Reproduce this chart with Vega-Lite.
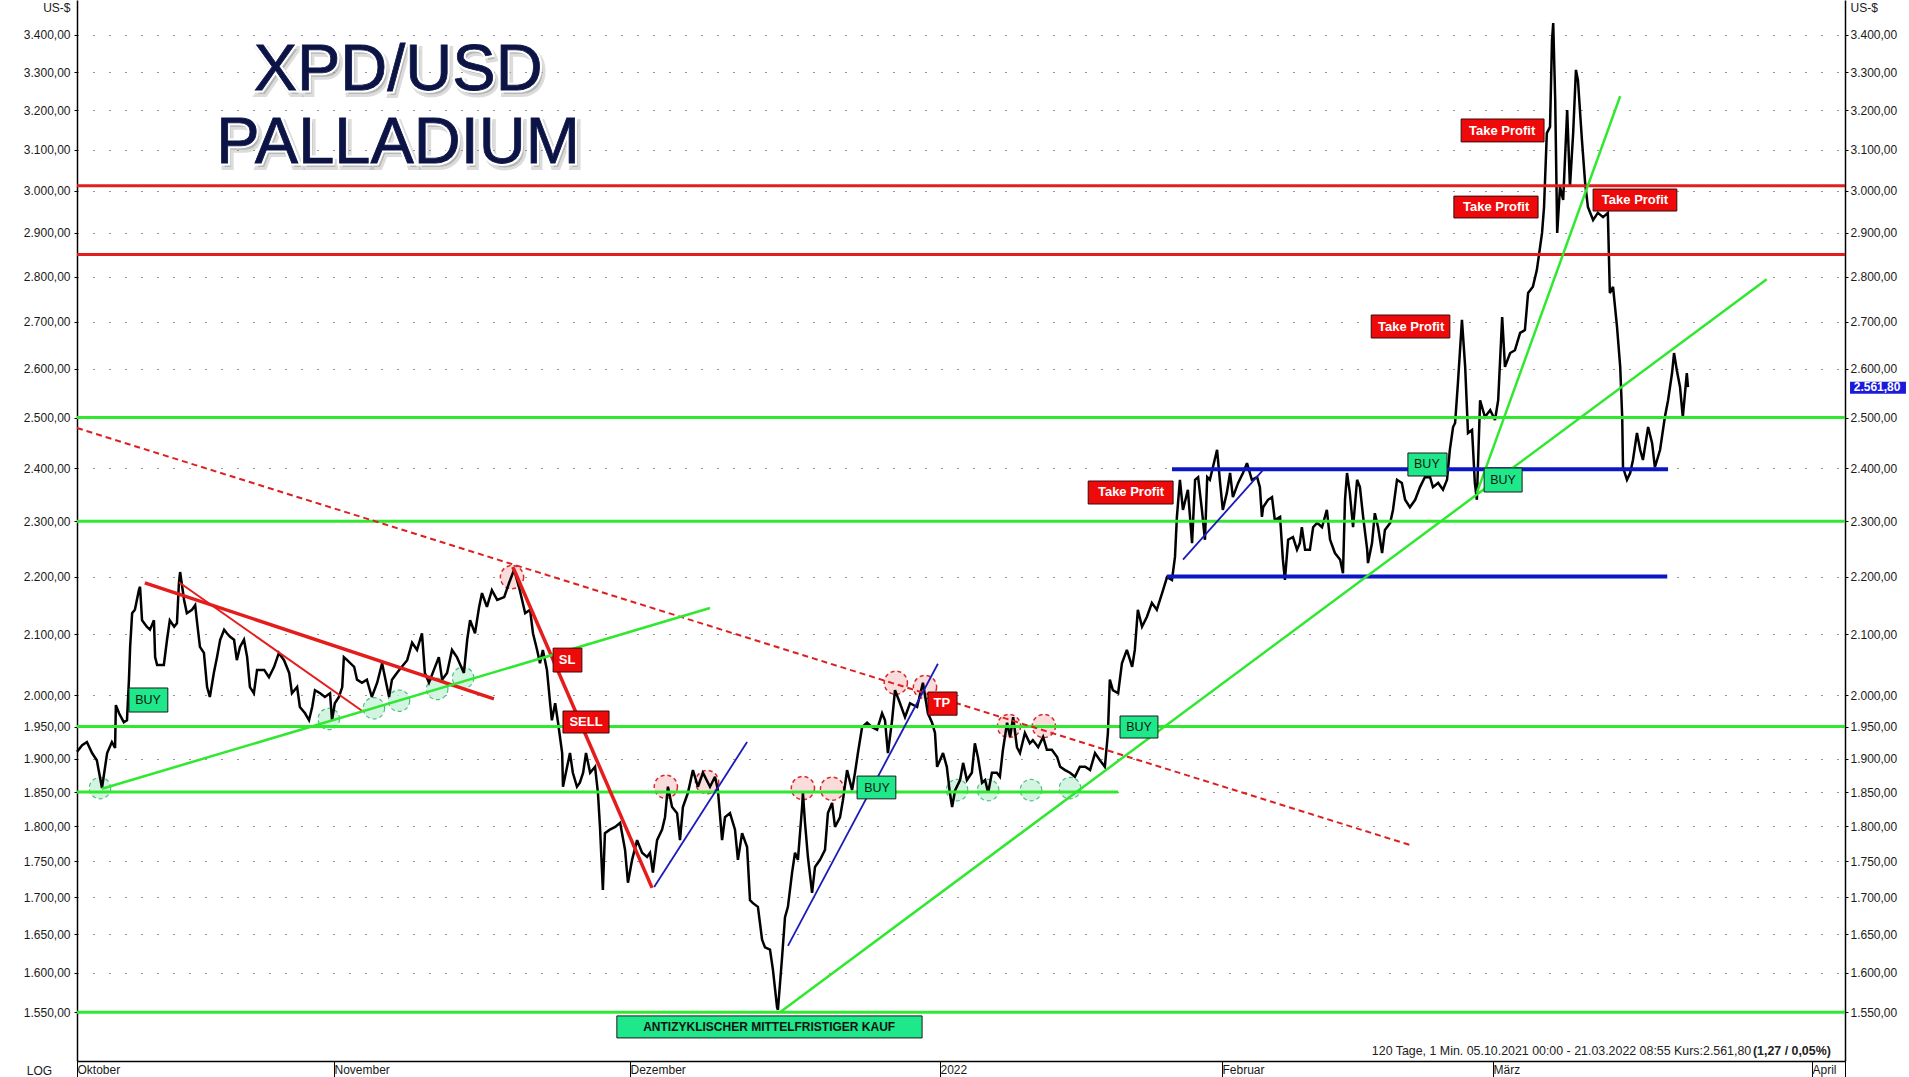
{
  "$schema": "https://vega.github.io/schema/vega-lite/v6.json",
  "width": 1768,
  "height": 1061,
  "autosize": {"type": "none"},
  "padding": {"left": 77, "top": 0, "right": 64, "bottom": 16},
  "background": "white",
  "config": {
    "view": {"stroke": null},
    "font": "Liberation Sans",
    "axis": {"labelFont": "Liberation Sans", "titleFont": "Liberation Sans", "labelColor": "#1a1a1a", "titleColor": "#1a1a1a", "domainColor": "#000000", "tickColor": "#000000", "labelFontSize": 12, "titleFontSize": 12, "titleFontWeight": "normal", "labelFlush": false, "labelOverlap": false}
  },
  "datasets": {
    "kurs": [
      {"t":"2021-10-05T00:00","p":1911},{"t":"2021-10-05T13:00","p":1921},{"t":"2021-10-06T01:00","p":1926},{"t":"2021-10-06T14:00","p":1909},{"t":"2021-10-07T02:00","p":1898},{"t":"2021-10-07T15:00","p":1856},{"t":"2021-10-08T04:00","p":1909},{"t":"2021-10-08T16:00","p":1926},{"t":"2021-10-09T00:00","p":1917},{"t":"2021-10-09T02:00","p":1984},{"t":"2021-10-09T10:00","p":1971},{"t":"2021-10-09T22:00","p":1957},{"t":"2021-10-10T06:00","p":1960},{"t":"2021-10-10T11:00","p":2025},{"t":"2021-10-10T14:00","p":2079},{"t":"2021-10-10T19:00","p":2136},{"t":"2021-10-11T02:00","p":2142},{"t":"2021-10-11T12:00","p":2176},{"t":"2021-10-11T15:00","p":2182},{"t":"2021-10-11T20:00","p":2124},{"t":"2021-10-12T08:00","p":2113},{"t":"2021-10-12T16:00","p":2108},{"t":"2021-10-13T02:00","p":2124},{"t":"2021-10-13T05:00","p":2062},{"t":"2021-10-13T10:00","p":2049},{"t":"2021-10-14T03:00","p":2049},{"t":"2021-10-14T11:00","p":2091},{"t":"2021-10-14T18:00","p":2124},{"t":"2021-10-15T05:00","p":2113},{"t":"2021-10-15T12:00","p":2119},{"t":"2021-10-15T17:00","p":2189},{"t":"2021-10-15T20:00","p":2208},{"t":"2021-10-16T06:00","p":2159},{"t":"2021-10-16T13:00","p":2136},{"t":"2021-10-17T02:00","p":2142},{"t":"2021-10-17T10:00","p":2150},{"t":"2021-10-17T15:00","p":2119},{"t":"2021-10-17T22:00","p":2079},{"t":"2021-10-18T08:00","p":2069},{"t":"2021-10-18T16:00","p":2013},{"t":"2021-10-18T23:00","p":1997},{"t":"2021-10-19T09:00","p":2036},{"t":"2021-10-19T17:00","p":2062},{"t":"2021-10-20T01:00","p":2091},{"t":"2021-10-20T11:00","p":2108},{"t":"2021-10-20T18:00","p":2102},{"t":"2021-10-21T02:00","p":2096},{"t":"2021-10-21T12:00","p":2091},{"t":"2021-10-21T19:00","p":2057},{"t":"2021-10-22T03:00","p":2079},{"t":"2021-10-22T13:00","p":2091},{"t":"2021-10-22T21:00","p":2062},{"t":"2021-10-23T04:00","p":2013},{"t":"2021-10-23T14:00","p":2003},{"t":"2021-10-23T22:00","p":2041},{"t":"2021-10-24T16:00","p":2041},{"t":"2021-10-25T04:00","p":2029},{"t":"2021-10-25T17:00","p":2046},{"t":"2021-10-26T05:00","p":2069},{"t":"2021-10-26T18:00","p":2057},{"t":"2021-10-27T07:00","p":2036},{"t":"2021-10-27T14:00","p":2003},{"t":"2021-10-28T03:00","p":2013},{"t":"2021-10-28T10:00","p":1981},{"t":"2021-10-28T23:00","p":1971},{"t":"2021-10-29T09:00","p":1960},{"t":"2021-10-29T17:00","p":1981},{"t":"2021-10-30T00:00","p":2008},{"t":"2021-10-30T13:00","p":2003},{"t":"2021-10-31T01:00","p":1997},{"t":"2021-10-31T14:00","p":2003},{"t":"2021-10-31T19:00","p":1960},
      {"t":"2021-11-01T02:00","p":1987},{"t":"2021-11-01T12:00","p":1997},{"t":"2021-11-01T20:00","p":2013},{"t":"2021-11-02T00:00","p":2062},{"t":"2021-11-02T08:00","p":2057},{"t":"2021-11-03T01:00","p":2046},{"t":"2021-11-03T08:00","p":2025},{"t":"2021-11-03T20:00","p":2020},{"t":"2021-11-04T08:00","p":2025},{"t":"2021-11-04T20:00","p":1997},{"t":"2021-11-05T09:00","p":2020},{"t":"2021-11-05T21:00","p":2052},{"t":"2021-11-06T04:00","p":2029},{"t":"2021-11-06T14:00","p":1997},{"t":"2021-11-06T21:00","p":2025},{"t":"2021-11-07T09:00","p":2036},{"t":"2021-11-07T21:00","p":2046},{"t":"2021-11-08T10:00","p":2057},{"t":"2021-11-08T22:00","p":2086},{"t":"2021-11-09T10:00","p":2074},{"t":"2021-11-09T22:00","p":2102},{"t":"2021-11-10T05:00","p":2036},{"t":"2021-11-10T15:00","p":2020},{"t":"2021-11-11T03:00","p":2041},{"t":"2021-11-11T15:00","p":2062},{"t":"2021-11-11T23:00","p":2025},{"t":"2021-11-12T11:00","p":2036},{"t":"2021-11-12T23:00","p":2074},{"t":"2021-11-13T11:00","p":2062},{"t":"2021-11-14T04:00","p":2036},{"t":"2021-11-14T12:00","p":2091},{"t":"2021-11-14T19:00","p":2124},{"t":"2021-11-15T07:00","p":2102},{"t":"2021-11-15T17:00","p":2147},{"t":"2021-11-16T00:00","p":2171},{"t":"2021-11-16T12:00","p":2147},{"t":"2021-11-17T00:00","p":2176},{"t":"2021-11-17T13:00","p":2159},{"t":"2021-11-18T06:00","p":2164},{"t":"2021-11-18T18:00","p":2189},{"t":"2021-11-19T06:00","p":2212},{"t":"2021-11-19T20:00","p":2176},{"t":"2021-11-20T09:00","p":2136},{"t":"2021-11-20T21:00","p":2142},{"t":"2021-11-21T04:00","p":2102},{"t":"2021-11-21T14:00","p":2074},{"t":"2021-11-21T21:00","p":2052},{"t":"2021-11-22T04:00","p":2074},{"t":"2021-11-22T14:00","p":2041},{"t":"2021-11-22T21:00","p":1992},{"t":"2021-11-23T02:00","p":1960},{"t":"2021-11-23T10:00","p":1987},{"t":"2021-11-23T17:00","p":1956},{"t":"2021-11-24T03:00","p":1909},{"t":"2021-11-24T05:00","p":1858},{"t":"2021-11-24T15:00","p":1888},{"t":"2021-11-24T22:00","p":1909},{"t":"2021-11-25T05:00","p":1879},{"t":"2021-11-25T15:00","p":1858},{"t":"2021-11-25T22:00","p":1864},{"t":"2021-11-26T06:00","p":1879},{"t":"2021-11-26T13:00","p":1909},{"t":"2021-11-26T23:00","p":1879},{"t":"2021-11-27T11:00","p":1888},{"t":"2021-11-27T18:00","p":1849},{"t":"2021-11-27T23:00","p":1799},{"t":"2021-11-28T06:00","p":1710},{"t":"2021-11-28T11:00","p":1790},{"t":"2021-11-28T23:00","p":1795},{"t":"2021-11-29T12:00","p":1799},{"t":"2021-11-30T00:00","p":1805},{"t":"2021-11-30T12:00","p":1766},{"t":"2021-11-30T19:00","p":1720},
      {"t":"2021-12-01T05:00","p":1752},{"t":"2021-12-01T17:00","p":1780},{"t":"2021-12-02T05:00","p":1762},{"t":"2021-12-02T17:00","p":1756},{"t":"2021-12-03T00:00","p":1762},{"t":"2021-12-03T07:00","p":1734},{"t":"2021-12-03T17:00","p":1780},{"t":"2021-12-04T05:00","p":1795},{"t":"2021-12-04T12:00","p":1813},{"t":"2021-12-04T19:00","p":1858},{"t":"2021-12-05T05:00","p":1828},{"t":"2021-12-05T17:00","p":1819},{"t":"2021-12-06T00:00","p":1780},{"t":"2021-12-06T07:00","p":1828},{"t":"2021-12-06T19:00","p":1849},{"t":"2021-12-07T07:00","p":1883},{"t":"2021-12-07T19:00","p":1858},{"t":"2021-12-08T07:00","p":1879},{"t":"2021-12-09T00:00","p":1858},{"t":"2021-12-09T12:00","p":1873},{"t":"2021-12-09T19:00","p":1853},{"t":"2021-12-10T05:00","p":1780},{"t":"2021-12-10T12:00","p":1813},{"t":"2021-12-11T00:00","p":1819},{"t":"2021-12-11T12:00","p":1795},{"t":"2021-12-11T19:00","p":1752},{"t":"2021-12-12T05:00","p":1790},{"t":"2021-12-12T17:00","p":1770},{"t":"2021-12-13T00:00","p":1696},{"t":"2021-12-13T07:00","p":1692},{"t":"2021-12-13T19:00","p":1687},{"t":"2021-12-14T05:00","p":1643},{"t":"2021-12-14T12:00","p":1633},{"t":"2021-12-15T00:00","p":1630},{"t":"2021-12-15T07:00","p":1604},{"t":"2021-12-15T17:00","p":1556},{"t":"2021-12-15T19:00","p":1553},{"t":"2021-12-16T05:00","p":1620},{"t":"2021-12-16T12:00","p":1673},{"t":"2021-12-16T19:00","p":1687},{"t":"2021-12-17T05:00","p":1734},{"t":"2021-12-17T12:00","p":1762},{"t":"2021-12-17T19:00","p":1752},{"t":"2021-12-18T05:00","p":1828},{"t":"2021-12-18T07:00","p":1849},{"t":"2021-12-18T12:00","p":1805},{"t":"2021-12-18T19:00","p":1756},{"t":"2021-12-19T05:00","p":1706},{"t":"2021-12-19T12:00","p":1742},{"t":"2021-12-20T00:00","p":1752},{"t":"2021-12-20T12:00","p":1766},{"t":"2021-12-20T19:00","p":1819},{"t":"2021-12-21T05:00","p":1834},{"t":"2021-12-21T12:00","p":1799},{"t":"2021-12-22T00:00","p":1813},{"t":"2021-12-22T07:00","p":1838},{"t":"2021-12-22T17:00","p":1883},{"t":"2021-12-23T05:00","p":1853},{"t":"2021-12-23T12:00","p":1879},{"t":"2021-12-23T19:00","p":1909},{"t":"2021-12-24T05:00","p":1949},{"t":"2021-12-24T17:00","p":1956},{"t":"2021-12-25T05:00","p":1949},{"t":"2021-12-25T17:00","p":1945},{"t":"2021-12-26T05:00","p":1971},{"t":"2021-12-26T12:00","p":1960},{"t":"2021-12-26T19:00","p":1909},{"t":"2021-12-27T05:00","p":1960},{"t":"2021-12-27T12:00","p":2008},{"t":"2021-12-28T00:00","p":1987},{"t":"2021-12-28T12:00","p":1965},{"t":"2021-12-29T00:00","p":1987},{"t":"2021-12-29T17:00","p":1981},{"t":"2021-12-30T07:00","p":2020},{"t":"2021-12-30T19:00","p":1971},{"t":"2021-12-31T05:00","p":1956},{"t":"2021-12-31T12:00","p":1940},{"t":"2021-12-31T17:00","p":1888},
      {"t":"2022-01-01T00:00","p":1898},{"t":"2022-01-01T08:00","p":1909},{"t":"2022-01-01T18:00","p":1888},{"t":"2022-01-02T02:00","p":1849},{"t":"2022-01-02T08:00","p":1828},{"t":"2022-01-02T16:00","p":1853},{"t":"2022-01-03T05:00","p":1868},{"t":"2022-01-03T13:00","p":1894},{"t":"2022-01-03T23:00","p":1868},{"t":"2022-01-04T12:00","p":1879},{"t":"2022-01-04T20:00","p":1924},{"t":"2022-01-05T04:00","p":1903},{"t":"2022-01-05T15:00","p":1864},{"t":"2022-01-05T23:00","p":1868},{"t":"2022-01-06T07:00","p":1849},{"t":"2022-01-06T17:00","p":1879},{"t":"2022-01-07T06:00","p":1879},{"t":"2022-01-07T14:00","p":1873},{"t":"2022-01-07T22:00","p":1914},{"t":"2022-01-08T09:00","p":1956},{"t":"2022-01-08T17:00","p":1934},{"t":"2022-01-09T01:00","p":1965},{"t":"2022-01-09T11:00","p":1918},{"t":"2022-01-09T19:00","p":1909},{"t":"2022-01-10T08:00","p":1940},{"t":"2022-01-10T21:00","p":1924},{"t":"2022-01-11T05:00","p":1929},{"t":"2022-01-11T19:00","p":1918},{"t":"2022-01-12T08:00","p":1934},{"t":"2022-01-12T18:00","p":1914},{"t":"2022-01-13T07:00","p":1914},{"t":"2022-01-13T21:00","p":1903},{"t":"2022-01-14T05:00","p":1888},{"t":"2022-01-14T18:00","p":1883},{"t":"2022-01-15T07:00","p":1879},{"t":"2022-01-15T20:00","p":1873},{"t":"2022-01-16T09:00","p":1888},{"t":"2022-01-16T23:00","p":1888},{"t":"2022-01-17T12:00","p":1883},{"t":"2022-01-18T01:00","p":1909},{"t":"2022-01-18T14:00","p":1898},{"t":"2022-01-19T03:00","p":1888},{"t":"2022-01-19T11:00","p":1940},{"t":"2022-01-19T16:00","p":2025},{"t":"2022-01-20T00:00","p":2008},{"t":"2022-01-20T14:00","p":2003},{"t":"2022-01-21T00:00","p":2052},{"t":"2022-01-21T13:00","p":2074},{"t":"2022-01-22T03:00","p":2046},{"t":"2022-01-22T10:00","p":2074},{"t":"2022-01-22T18:00","p":2142},{"t":"2022-01-23T05:00","p":2113},{"t":"2022-01-23T18:00","p":2130},{"t":"2022-01-24T07:00","p":2154},{"t":"2022-01-24T20:00","p":2142},{"t":"2022-01-25T10:00","p":2171},{"t":"2022-01-25T23:00","p":2199},{"t":"2022-01-26T12:00","p":2194},{"t":"2022-01-26T20:00","p":2235},{"t":"2022-01-27T01:00","p":2308},{"t":"2022-01-27T09:00","p":2378},{"t":"2022-01-27T17:00","p":2321},{"t":"2022-01-28T06:00","p":2359},{"t":"2022-01-28T17:00","p":2260},{"t":"2022-01-29T01:00","p":2378},{"t":"2022-01-29T09:00","p":2383},{"t":"2022-01-29T19:00","p":2321},{"t":"2022-01-30T03:00","p":2266},{"t":"2022-01-30T09:00","p":2383},{"t":"2022-01-30T16:00","p":2378},{"t":"2022-01-31T00:00","p":2402},{"t":"2022-01-31T11:00","p":2436},{"t":"2022-01-31T19:00","p":2372},
      {"t":"2022-02-01T02:00","p":2321},{"t":"2022-02-01T12:00","p":2353},{"t":"2022-02-01T20:00","p":2391},{"t":"2022-02-02T03:00","p":2345},{"t":"2022-02-02T16:00","p":2372},{"t":"2022-02-03T04:00","p":2391},{"t":"2022-02-03T14:00","p":2410},{"t":"2022-02-04T02:00","p":2378},{"t":"2022-02-04T15:00","p":2383},{"t":"2022-02-04T22:00","p":2364},{"t":"2022-02-05T03:00","p":2308},{"t":"2022-02-05T06:00","p":2326},{"t":"2022-02-05T18:00","p":2340},{"t":"2022-02-06T04:00","p":2345},{"t":"2022-02-06T11:00","p":2302},{"t":"2022-02-07T00:00","p":2308},{"t":"2022-02-07T07:00","p":2230},{"t":"2022-02-07T12:00","p":2194},{"t":"2022-02-07T20:00","p":2266},{"t":"2022-02-08T08:00","p":2271},{"t":"2022-02-08T18:00","p":2248},{"t":"2022-02-09T01:00","p":2260},{"t":"2022-02-09T06:00","p":2289},{"t":"2022-02-09T14:00","p":2248},{"t":"2022-02-10T02:00","p":2248},{"t":"2022-02-10T10:00","p":2289},{"t":"2022-02-10T20:00","p":2297},{"t":"2022-02-11T08:00","p":2289},{"t":"2022-02-11T20:00","p":2321},{"t":"2022-02-12T04:00","p":2266},{"t":"2022-02-12T16:00","p":2242},{"t":"2022-02-13T05:00","p":2230},{"t":"2022-02-13T12:00","p":2206},{"t":"2022-02-13T17:00","p":2340},{"t":"2022-02-13T22:00","p":2391},{"t":"2022-02-14T05:00","p":2353},{"t":"2022-02-14T13:00","p":2289},{"t":"2022-02-14T23:00","p":2378},{"t":"2022-02-15T06:00","p":2364},{"t":"2022-02-15T14:00","p":2308},{"t":"2022-02-16T00:00","p":2248},{"t":"2022-02-16T02:00","p":2224},{"t":"2022-02-16T12:00","p":2260},{"t":"2022-02-16T19:00","p":2315},{"t":"2022-02-17T03:00","p":2289},{"t":"2022-02-17T13:00","p":2242},{"t":"2022-02-17T20:00","p":2284},{"t":"2022-02-18T09:00","p":2297},{"t":"2022-02-18T16:00","p":2321},{"t":"2022-02-19T02:00","p":2378},{"t":"2022-02-19T14:00","p":2372},{"t":"2022-02-19T22:00","p":2340},{"t":"2022-02-20T10:00","p":2326},{"t":"2022-02-20T23:00","p":2340},{"t":"2022-02-21T11:00","p":2364},{"t":"2022-02-21T23:00","p":2383},{"t":"2022-02-22T12:00","p":2383},{"t":"2022-02-22T19:00","p":2364},{"t":"2022-02-23T08:00","p":2372},{"t":"2022-02-23T20:00","p":2359},{"t":"2022-02-24T06:00","p":2378},{"t":"2022-02-24T13:00","p":2436},{"t":"2022-02-24T21:00","p":2481},{"t":"2022-02-25T02:00","p":2489},{"t":"2022-02-25T09:00","p":2570},{"t":"2022-02-25T19:00","p":2704},{"t":"2022-02-26T03:00","p":2604},{"t":"2022-02-26T10:00","p":2469},{"t":"2022-02-26T20:00","p":2475},{"t":"2022-02-27T03:00","p":2372},{"t":"2022-02-27T08:00","p":2340},{"t":"2022-02-27T16:00","p":2535},{"t":"2022-02-28T04:00","p":2501},{"t":"2022-02-28T17:00","p":2515},
      {"t":"2022-03-01T05:00","p":2495},{"t":"2022-03-01T13:00","p":2535},{"t":"2022-03-01T23:00","p":2710},{"t":"2022-03-02T06:00","p":2604},{"t":"2022-03-02T19:00","p":2633},{"t":"2022-03-03T07:00","p":2639},{"t":"2022-03-03T20:00","p":2676},{"t":"2022-03-04T08:00","p":2682},{"t":"2022-03-04T16:00","p":2763},{"t":"2022-03-05T04:00","p":2777},{"t":"2022-03-05T14:00","p":2815},{"t":"2022-03-06T03:00","p":2900},{"t":"2022-03-06T08:00","p":2961},{"t":"2022-03-06T15:00","p":3142},{"t":"2022-03-06T23:00","p":3158},{"t":"2022-03-07T04:00","p":3386},{"t":"2022-03-07T07:00","p":3433},{"t":"2022-03-07T12:00","p":3227},{"t":"2022-03-07T17:00","p":2900},{"t":"2022-03-08T00:00","p":3009},{"t":"2022-03-08T08:00","p":2978},{"t":"2022-03-08T18:00","p":3201},{"t":"2022-03-09T01:00","p":3009},{"t":"2022-03-09T09:00","p":3142},{"t":"2022-03-09T16:00","p":3306},{"t":"2022-03-09T21:00","p":3279},{"t":"2022-03-10T07:00","p":3125},{"t":"2022-03-10T15:00","p":3019},{"t":"2022-03-10T22:00","p":2961},{"t":"2022-03-11T11:00","p":2930},{"t":"2022-03-11T23:00","p":2947},{"t":"2022-03-12T12:00","p":2937},{"t":"2022-03-13T00:00","p":2947},{"t":"2022-03-13T05:00","p":2763},{"t":"2022-03-13T13:00","p":2777},{"t":"2022-03-13T23:00","p":2689},{"t":"2022-03-14T07:00","p":2604},{"t":"2022-03-14T12:00","p":2501},{"t":"2022-03-14T14:00","p":2402},{"t":"2022-03-15T00:00","p":2378},{"t":"2022-03-15T08:00","p":2391},{"t":"2022-03-15T15:00","p":2416},{"t":"2022-03-16T01:00","p":2469},{"t":"2022-03-16T09:00","p":2436},{"t":"2022-03-16T16:00","p":2416},{"t":"2022-03-17T05:00","p":2481},{"t":"2022-03-17T15:00","p":2449},{"t":"2022-03-17T22:00","p":2402},{"t":"2022-03-18T11:00","p":2436},{"t":"2022-03-18T23:00","p":2501},{"t":"2022-03-19T07:00","p":2535},{"t":"2022-03-19T17:00","p":2591},{"t":"2022-03-19T22:00","p":2633},{"t":"2022-03-20T05:00","p":2597},{"t":"2022-03-20T13:00","p":2562},{"t":"2022-03-20T20:00","p":2501},{"t":"2022-03-21T06:00","p":2591},{"t":"2022-03-21T09:00","p":2561.8}
    ],
    "linien": [
      {"t":"2021-10-05T00:00","t2":"2022-04-04T00:00","p":3012,"farbe":"rot"},
      {"t":"2021-10-05T00:00","t2":"2022-04-04T00:00","p":2850,"farbe":"rot"},
      {"t":"2021-10-05T00:00","t2":"2022-04-04T00:00","p":2500,"farbe":"grün"},
      {"t":"2021-10-05T00:00","t2":"2022-04-04T00:00","p":2300,"farbe":"grün"},
      {"t":"2021-10-05T00:00","t2":"2022-04-04T00:00","p":1950,"farbe":"grün"},
      {"t":"2021-10-05T00:00","t2":"2022-04-04T00:00","p":1550,"farbe":"grün"},
      {"t":"2021-10-05T00:00","t2":"2022-01-20T14:00","p":1850,"farbe":"grün"},
      {"t":"2022-01-26T12:00","t2":"2022-03-19T07:00","p":2398,"farbe":"blau"},
      {"t":"2022-01-25T23:00","t2":"2022-03-19T05:00","p":2200,"farbe":"blau"}
    ],
    "trends": [
      {"t":"2021-10-05T00:00","p":2479,"t2":"2022-02-20T10:00","p2":1773,"art":"rot gestrichelt"},
      {"t":"2021-10-12T03:00","p":2189,"t2":"2021-11-17T05:00","p2":1994,"art":"rot dick"},
      {"t":"2021-10-15T17:00","p":2190,"t2":"2021-11-03T20:00","p2":1975,"art":"rot dünn"},
      {"t":"2021-11-19T03:00","p":2217,"t2":"2021-12-03T05:00","p2":1713,"art":"rot dick"},
      {"t":"2021-10-07T15:00","p":1855,"t2":"2021-12-09T00:00","p2":2145,"art":"grün"},
      {"t":"2021-12-16T00:00","p":1550,"t2":"2022-03-28T03:00","p2":2794,"art":"grün"},
      {"t":"2022-02-27T08:00","p":2353,"t2":"2022-03-14T07:00","p2":3237,"art":"grün"},
      {"t":"2021-12-03T10:00","p":1714,"t2":"2021-12-12T17:00","p2":1926,"art":"blau"},
      {"t":"2021-12-16T19:00","p":1635,"t2":"2021-12-31T19:00","p2":2051,"art":"blau"},
      {"t":"2022-01-27T17:00","p":2230,"t2":"2022-02-05T06:00","p2":2397,"art":"blau"}
    ],
    "kreise": [
      {"t":"2021-11-19T01:00","p":2199,"art":"rot"},
      {"t":"2021-12-04T14:00","p":1858,"art":"rot"},
      {"t":"2021-12-08T17:00","p":1865,"art":"rot"},
      {"t":"2021-12-18T07:00","p":1856,"art":"rot"},
      {"t":"2021-12-21T05:00","p":1855,"art":"rot"},
      {"t":"2021-12-27T14:00","p":2020,"art":"rot"},
      {"t":"2021-12-30T12:00","p":2013,"art":"rot"},
      {"t":"2022-01-08T14:00","p":1951,"art":"rot"},
      {"t":"2022-01-12T10:00","p":1951,"art":"rot"},
      {"t":"2021-10-07T10:00","p":1856,"art":"grün"},
      {"t":"2021-10-31T11:00","p":1962,"art":"grün"},
      {"t":"2021-11-05T01:00","p":1979,"art":"grün"},
      {"t":"2021-11-07T14:00","p":1991,"art":"grün"},
      {"t":"2021-11-11T11:00","p":2010,"art":"grün"},
      {"t":"2021-11-14T02:00","p":2028,"art":"grün"},
      {"t":"2022-01-02T21:00","p":1853,"art":"grün"},
      {"t":"2022-01-06T07:00","p":1853,"art":"grün"},
      {"t":"2022-01-11T00:00","p":1853,"art":"grün"},
      {"t":"2022-01-15T07:00","p":1856,"art":"grün"}
    ],
    "boxen": [
      {"t":"2021-10-10T11:00","t2":"2021-10-14T13:00","p":2011.5,"p2":1973,"art":"kauf"},
      {"t":"2021-11-23T05:00","t2":"2021-11-26T03:00","p":2077,"p2":2037.5,"art":"signal"},
      {"t":"2021-11-24T05:00","t2":"2021-11-28T21:00","p":1974.6,"p2":1940,"art":"signal"},
      {"t":"2021-12-23T17:00","t2":"2021-12-27T14:00","p":1874,"p2":1840,"art":"kauf"},
      {"t":"2021-11-29T16:00","t2":"2021-12-30T05:00","p":1545.4,"p2":1518.3,"art":"antizyklisch"},
      {"t":"2021-12-30T19:00","t2":"2022-01-02T21:00","p":2005,"p2":1968,"art":"signal"},
      {"t":"2022-01-20T19:00","t2":"2022-01-24T23:00","p":1966.7,"p2":1932.2,"art":"kauf"},
      {"t":"2022-01-17T07:00","t2":"2022-01-26T15:00","p":2375.6,"p2":2332.1,"art":"signal"},
      {"t":"2022-02-20T05:00","t2":"2022-02-24T06:00","p":2429.7,"p2":2385.2,"art":"kauf"},
      {"t":"2022-02-28T02:00","t2":"2022-03-04T01:00","p":2400.6,"p2":2354.7,"art":"kauf"},
      {"t":"2022-02-16T10:00","t2":"2022-02-24T13:00","p":2714.7,"p2":2665,"art":"signal"},
      {"t":"2022-02-25T17:00","t2":"2022-03-06T08:00","p":3178,"p2":3120,"art":"signal"},
      {"t":"2022-02-24T23:00","t2":"2022-03-05T17:00","p":2987,"p2":2935,"art":"signal"},
      {"t":"2022-03-11T11:00","t2":"2022-03-20T05:00","p":3004,"p2":2951.4,"art":"signal"}
    ],
    "boxtexte": [
      {"t":"2021-10-12T11:00","p":1992,"text":"BUY","art":"kauf"},
      {"t":"2021-11-24T15:00","p":2057,"text":"SL","art":"signal"},
      {"t":"2021-11-26T13:00","p":1957,"text":"SELL","art":"signal"},
      {"t":"2021-12-25T17:00","p":1856,"text":"BUY","art":"kauf"},
      {"t":"2021-12-14T22:00","p":1531.8,"text":"ANTIZYKLISCHER MITTELFRISTIGER KAUF","art":"antizyklisch"},
      {"t":"2022-01-01T05:00","p":1987,"text":"TP","art":"signal"},
      {"t":"2022-01-22T21:00","p":1949.4,"text":"BUY","art":"kauf"},
      {"t":"2022-01-22T00:00","p":2354,"text":"Take Profit","art":"signal"},
      {"t":"2022-02-22T04:00","p":2408,"text":"BUY","art":"kauf"},
      {"t":"2022-03-02T01:00","p":2377.5,"text":"BUY","art":"kauf"},
      {"t":"2022-02-20T13:00","p":2689,"text":"Take Profit","art":"signal"},
      {"t":"2022-03-01T23:00","p":3147.5,"text":"Take Profit","art":"signal"},
      {"t":"2022-03-01T08:00","p":2961,"text":"Take Profit","art":"signal"},
      {"t":"2022-03-15T20:00","p":2977.7,"text":"Take Profit","art":"signal"}
    ],
    "titel": [
      {"t":"2021-11-07T12:00","p":3253,"text":"XPD/USD"},
      {"t":"2021-11-07T12:00","p":3067.6,"text":"PALLADIUM"}
    ],
    "fuss": [
      {"t":"2022-03-26T19:00","p":1502.6,"text":"120 Tage, 1 Min. 05.10.2021 00:00 - 21.03.2022 08:55 Kurs:2.561,80","teil":"normal"},
      {"t":"2022-04-02T17:00","p":1502.6,"text":"(1,27 / 0,05%)","teil":"fett"}
    ],
    "marke": [
      {"t":"2022-04-04T11:00","t2":"2022-04-09T13:00","p":2573,"p2":2548}
    ],
    "marketext": [
      {"t":"2022-04-06T22:00","p":2561.8,"text":"2.561,80"}
    ]
  },
  "encoding": {
    "x": {"field": "t", "type": "temporal",
      "scale": {"domainRaw": {"signal": "[datetime(2021,9,5), datetime(2021,10,1), datetime(2021,11,1), datetime(2022,0,1), datetime(2022,1,1), datetime(2022,2,1), datetime(2022,2,21,9), datetime(2022,3,1), datetime(2022,3,4)]"},
                "domain": [{"year":2021,"month":10,"date":5},{"year":2022,"month":4,"date":4}],
                "range": [0,257,553,863,1145,1416,1611,1735,1768]},
      "axis": {"orient": "bottom", "zindex": 1, "values": [{"year":2021,"month":10,"date":5},{"year":2021,"month":11,"date":1},{"year":2021,"month":12,"date":1},{"year":2022,"month":1,"date":1},{"year":2022,"month":2,"date":1},{"year":2022,"month":3,"date":1},{"year":2022,"month":4,"date":1},{"year":2022,"month":4,"date":4}],
        "labelExpr": "date(datum.value) == 4 ? '' : (month(datum.value) == 0 ? '2022' : ['Januar','Februar','März','April','Mai','Juni','Juli','August','September','Oktober','November','Dezember'][month(datum.value)])",
        "tickSize": 16, "tickWidth": 1, "domainWidth": 1.5, "labelAlign": "left", "labelBaseline": "top", "labelDx": 2, "labelPadding": -13, "labelFontSize": 12, "grid": false,
        "title": "LOG", "titleX": -38, "titleY": 9, "titleAlign": "center", "titleBaseline": "middle", "titleAngle": 0, "titleFontSize": 12}},
    "y": {"field": "p", "type": "quantitative", "axis": null, "scale": {"type": "log", "domain": [1490.4, 3497]}}
  },
  "resolve": {"axis": {"y": "independent"}},
  "layer": [
    {
      "data": {"name": "kreise"},
      "transform": [{"filter": "datum.art == 'rot'"}],
      "mark": {"type": "point", "shape": "circle", "size": 540, "filled": true, "fill": "#f9d0d0", "fillOpacity": 0.75, "stroke": "#d42a2a", "strokeWidth": 1.5, "strokeDash": [4, 3], "strokeOpacity": 1}
    },
    {
      "data": {"name": "kreise"},
      "transform": [{"filter": "datum.art == 'grün'"}],
      "mark": {"type": "point", "shape": "circle", "size": 460, "filled": true, "fill": "#c6f0d8", "fillOpacity": 0.75, "stroke": "#4cbf80", "strokeWidth": 1.2, "strokeDash": [4, 3], "strokeOpacity": 1}
    },
    {
      "data": {"name": "kurs"},
      "mark": {"type": "line", "color": "#000000", "strokeWidth": 2.5, "strokeJoin": "miter", "strokeMiterLimit": 3},
      "encoding": {
        "y": {"field": "p", "type": "quantitative", "scale": {"type": "log", "domain": [1490.4, 3497]},
          "axis": {"orient": "left", "values": [1550,1600,1650,1700,1750,1800,1850,1900,1950,2000,2100,2200,2300,2400,2500,2600,2700,2800,2900,3000,3100,3200,3300,3400],
            "labelExpr": "replace(replace(replace(format(datum.value, ',.2f'), ',', '_'), '.', ','), '_', '.')",
            "tickSize": 3, "labelPadding": 4, "domainWidth": 1.5, "grid": true, "gridColor": "#333333", "gridDash": [1, 15], "gridWidth": 1,
            "title": "US-$", "titleAngle": 0, "titleX": -7, "titleY": 7, "titleAlign": "right", "titleBaseline": "middle"}}
      }
    },
    {
      "data": {"name": "linien"},
      "transform": [{"filter": "datum.farbe == 'rot'"}],
      "mark": {"type": "rule", "color": "#e51c1c", "strokeWidth": 3},
      "encoding": {
        "x2": {"field": "t2"},
        "y": {"field": "p", "type": "quantitative", "scale": {"type": "log", "domain": [1490.4, 3497]},
          "axis": {"orient": "right", "values": [1550,1600,1650,1700,1750,1800,1850,1900,1950,2000,2100,2200,2300,2400,2500,2600,2700,2800,2900,3000,3100,3200,3300,3400],
            "labelExpr": "replace(replace(replace(format(datum.value, ',.2f'), ',', '_'), '.', ','), '_', '.')",
            "tickSize": 3, "labelPadding": 2, "domainWidth": 1.5, "grid": false,
            "title": "US-$", "titleAngle": 0, "titleX": 5, "titleY": 7, "titleAlign": "left", "titleBaseline": "middle"}}
      }
    },
    {
      "data": {"name": "linien"},
      "transform": [{"filter": "datum.farbe == 'grün'"}],
      "mark": {"type": "rule", "color": "#2fe82f", "strokeWidth": 3},
      "encoding": {"x2": {"field": "t2"}}
    },
    {
      "data": {"name": "linien"},
      "transform": [{"filter": "datum.farbe == 'blau'"}],
      "mark": {"type": "rule", "color": "#0b17c4", "strokeWidth": 4},
      "encoding": {"x2": {"field": "t2"}}
    },
    {
      "data": {"name": "trends"},
      "transform": [{"filter": "datum.art == 'rot gestrichelt'"}],
      "mark": {"type": "rule", "color": "#dd1f1f", "strokeWidth": 2, "strokeDash": [6, 4]},
      "encoding": {"x2": {"field": "t2"}, "y2": {"field": "p2"}}
    },
    {
      "data": {"name": "trends"},
      "transform": [{"filter": "datum.art == 'rot dick'"}],
      "mark": {"type": "rule", "color": "#e51c1c", "strokeWidth": 3.5},
      "encoding": {"x2": {"field": "t2"}, "y2": {"field": "p2"}}
    },
    {
      "data": {"name": "trends"},
      "transform": [{"filter": "datum.art == 'rot dünn'"}],
      "mark": {"type": "rule", "color": "#e51c1c", "strokeWidth": 2},
      "encoding": {"x2": {"field": "t2"}, "y2": {"field": "p2"}}
    },
    {
      "data": {"name": "trends"},
      "transform": [{"filter": "datum.art == 'grün'"}],
      "mark": {"type": "rule", "color": "#2fe82f", "strokeWidth": 2.5},
      "encoding": {"x2": {"field": "t2"}, "y2": {"field": "p2"}}
    },
    {
      "data": {"name": "trends"},
      "transform": [{"filter": "datum.art == 'blau'"}],
      "mark": {"type": "rule", "color": "#1b1bb8", "strokeWidth": 1.8},
      "encoding": {"x2": {"field": "t2"}, "y2": {"field": "p2"}}
    },
    {
      "data": {"name": "boxen"},
      "transform": [{"filter": "datum.art != 'signal'"}],
      "mark": {"type": "rect", "fill": "#1ee88a", "stroke": "#1a1a1a", "strokeWidth": 1},
      "encoding": {"x2": {"field": "t2"}, "y2": {"field": "p2"}}
    },
    {
      "data": {"name": "boxen"},
      "transform": [{"filter": "datum.art == 'signal'"}],
      "mark": {"type": "rect", "fill": "#ee0a0a", "stroke": "#3a0a0a", "strokeWidth": 1},
      "encoding": {"x2": {"field": "t2"}, "y2": {"field": "p2"}}
    },
    {
      "data": {"name": "boxtexte"},
      "transform": [{"filter": "datum.art == 'kauf'"}],
      "mark": {"type": "text", "font": "Liberation Sans", "fontSize": 12.5, "color": "#0f1a12", "align": "center", "baseline": "middle"},
      "encoding": {"text": {"field": "text"}}
    },
    {
      "data": {"name": "boxtexte"},
      "transform": [{"filter": "datum.art == 'antizyklisch'"}],
      "mark": {"type": "text", "font": "Liberation Sans", "fontSize": 12, "fontWeight": "bold", "color": "#111111", "align": "center", "baseline": "middle"},
      "encoding": {"text": {"field": "text"}}
    },
    {
      "data": {"name": "boxtexte"},
      "transform": [{"filter": "datum.art == 'signal'"}],
      "mark": {"type": "text", "font": "Liberation Sans", "fontSize": 13, "fontWeight": "bold", "color": "#ffffff", "align": "center", "baseline": "middle"},
      "encoding": {"text": {"field": "text"}}
    },
    {
      "data": {"name": "titel"},
      "mark": {"type": "text", "font": "Liberation Sans", "fontSize": 65, "align": "center", "baseline": "alphabetic", "dx": 3, "dy": 4, "fill": "#808080", "fillOpacity": 0.45, "stroke": "#9a9a9a", "strokeWidth": 6, "strokeOpacity": 0.35},
      "encoding": {"text": {"field": "text"}}
    },
    {
      "data": {"name": "titel"},
      "mark": {"type": "text", "font": "Liberation Sans", "fontSize": 65, "align": "center", "baseline": "alphabetic", "fill": "#ffffff", "stroke": "#ffffff", "strokeWidth": 5},
      "encoding": {"text": {"field": "text"}}
    },
    {
      "data": {"name": "titel"},
      "mark": {"type": "text", "font": "Liberation Sans", "fontSize": 65, "align": "center", "baseline": "alphabetic", "fill": "#0c1446", "stroke": "#0c1446", "strokeWidth": 0.8},
      "encoding": {"text": {"field": "text"}}
    },
    {
      "data": {"name": "fuss"},
      "transform": [{"filter": "datum.teil == 'normal'"}],
      "mark": {"type": "text", "font": "Liberation Sans", "fontSize": 12.4, "color": "#222222", "align": "right", "baseline": "middle"},
      "encoding": {"text": {"field": "text"}}
    },
    {
      "data": {"name": "fuss"},
      "transform": [{"filter": "datum.teil == 'fett'"}],
      "mark": {"type": "text", "font": "Liberation Sans", "fontSize": 12.4, "fontWeight": "bold", "color": "#222222", "align": "right", "baseline": "middle"},
      "encoding": {"text": {"field": "text"}}
    },
    {
      "data": {"name": "marke"},
      "mark": {"type": "rect", "fill": "#1a1adb", "clip": false},
      "encoding": {"x2": {"field": "t2"}, "y2": {"field": "p2"}}
    },
    {
      "data": {"name": "marketext"},
      "mark": {"type": "text", "font": "Liberation Sans", "fontSize": 12, "fontWeight": "bold", "color": "#ffffff", "align": "center", "baseline": "middle", "clip": false},
      "encoding": {"text": {"field": "text"}}
    }
  ]
}
